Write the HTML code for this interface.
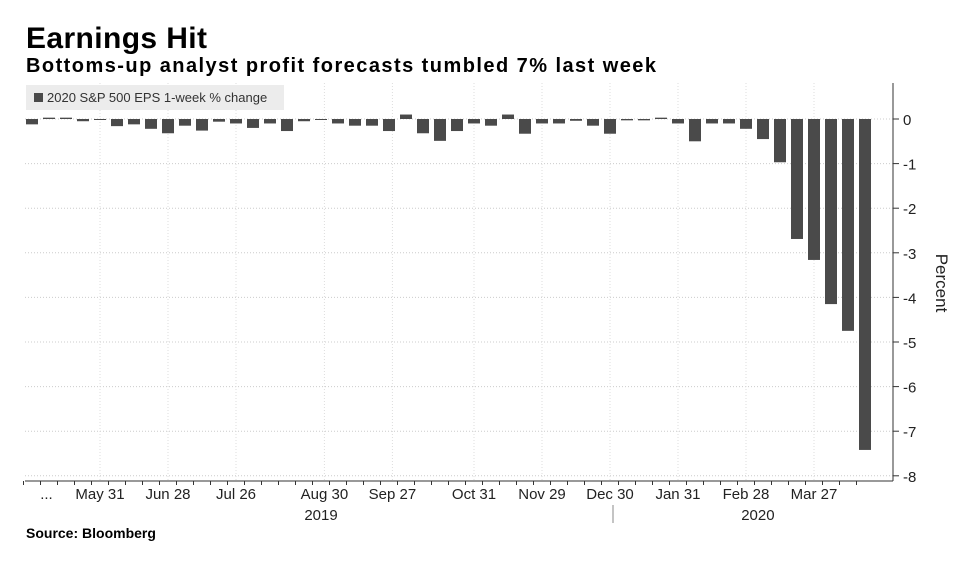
<!DOCTYPE html>
<html><head><meta charset="utf-8"><style>
body{margin:0;background:#fff;width:972px;height:576px;overflow:hidden;font-family:"Liberation Sans",sans-serif}
svg{position:absolute;left:0;top:0}
</style></head><body>
<svg id="c" width="972" height="576" xmlns="http://www.w3.org/2000/svg">
<text x="26" y="48" font-size="30" font-weight="bold" fill="#000" textLength="181">Earnings Hit</text>
<text x="26" y="72" font-size="20" font-weight="bold" fill="#000" textLength="630">Bottoms-up analyst profit forecasts tumbled 7% last week</text>
<text x="26" y="538" font-size="14" font-weight="bold" fill="#000">Source: Bloomberg</text>
<g id="grid"></g><g id="bars"></g><g id="axes"></g>
<g>
<rect x="26" y="85" width="258" height="25" fill="#ececec"/>
<rect x="34" y="93" width="9" height="9" fill="#4a4a4a"/>
<text x="47" y="102" font-size="13" fill="#333">2020 S&amp;P 500 EPS 1-week % change</text>
</g>
<text transform="translate(936,283) rotate(90)" text-anchor="middle" font-size="17" fill="#222">Percent</text>
</svg>
<script>
const values=[-0.12,0.03,0.03,-0.05,-0.01,-0.16,-0.12,-0.22,-0.32,-0.15,-0.26,-0.06,-0.1,-0.2,-0.1,-0.27,-0.05,-0.01,-0.1,-0.15,-0.15,-0.27,0.1,-0.32,-0.49,-0.27,-0.1,-0.15,0.1,-0.33,-0.1,-0.1,-0.04,-0.15,-0.33,-0.03,-0.03,0.03,-0.1,-0.5,-0.1,-0.1,-0.22,-0.45,-0.97,-2.69,-3.16,-4.15,-4.75,-7.42];
const yTicks=[0,-1,-2,-3,-4,-5,-6,-7,-8];
const xLabels=["...","May 31","Jun 28","Jul 26","Aug 30","Sep 27","Oct 31","Nov 29","Dec 30","Jan 31","Feb 28","Mar 27"];
const xLabelIdx=[0.85,4,8,12,17.2,21.2,26,30,34,38,42,46];
const yearLabels=["2019","2020"];
const yearIdx=[17,42.7];
const NS="http://www.w3.org/2000/svg";
const x=i=>32+i*17.0;
const y=v=>119-v*44.6;
function mk(tag,attrs,parent){const e=document.createElementNS(NS,tag);for(const k in attrs)e.setAttribute(k,attrs[k]);document.getElementById(parent).appendChild(e);return e;}
yTicks.forEach((t,i)=>{
 const l=mk('line',{x1:25,x2:893,y1:y(t),y2:y(t),stroke:'#ccc','stroke-dasharray':'1,2'},'grid');
 
 
 const tk=mk('line',{x1:893,x2:899,y1:y(t),y2:y(t),stroke:'#333'},'axes');
 
 
 const tx=mk('text',{x:903,y:y(t)+6,'font-size':15,fill:'#222'},'axes');
 tx.textContent=String(t);
 
 
});
xLabelIdx.forEach((p,i)=>{
 if(i>0){const g=mk('line',{x1:x(p),x2:x(p),y1:83,y2:481,stroke:'#ddd','stroke-dasharray':'1,2'},'grid');
 
 }
 const t=mk('text',{x:x(p),y:499,'font-size':15,fill:'#222','text-anchor':'middle'},'axes');
 t.textContent=xLabels[i];
 
 
});
yearLabels.forEach((s,i)=>{
 const t=mk('text',{x:x(yearIdx[i]),y:520,'font-size':15,fill:'#222','text-anchor':'middle'},'axes');
 t.textContent=s;
 
 
});
const sep=mk('line',{x1:613,x2:613,y1:505,y2:523,stroke:'#888'},'axes');


values.forEach((v,i)=>{
 const r=mk('rect',{x:x(i)-6,y:Math.min(y(v),y(0)),width:12,height:Math.max(1,Math.abs(y(v)-y(0))),fill:'#4a4a4a'},'bars');
 
 
 const tk=mk('line',{x1:x(i)-8.5,x2:x(i)-8.5,y1:481,y2:485,stroke:'#333'},'axes');
 
 
});
const xa=mk('line',{x1:25,x2:893,y1:481,y2:481,stroke:'#333'},'axes');


const ya=mk('line',{x1:893,x2:893,y1:83,y2:481,stroke:'#333'},'axes');


</script>
</body></html>
